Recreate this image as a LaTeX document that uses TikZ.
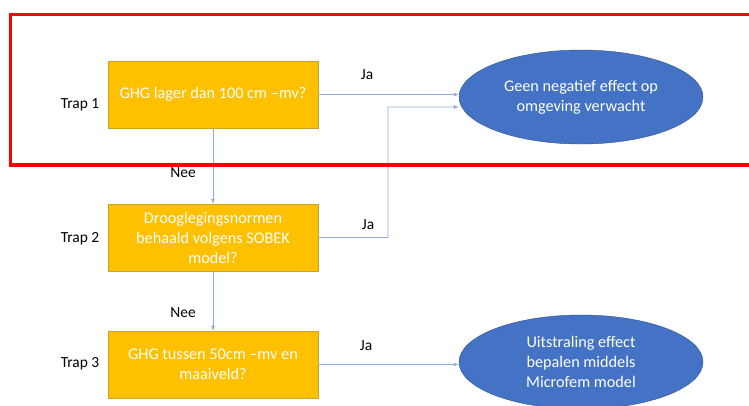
\documentclass[tikz,border=0pt]{standalone}
\usepackage{fontspec}
\setmainfont{Carlito}
\usetikzlibrary{shapes.geometric,arrows.meta}

\definecolor{trapgeel}{HTML}{FFC000}
\definecolor{traprand}{HTML}{C9A227}
\definecolor{uitblauw}{HTML}{4472C4}
\definecolor{uitrand}{HTML}{2F528F}
\definecolor{lijnblauw}{HTML}{8FAADC}

\begin{document}
\begin{tikzpicture}[x=1bp, y=-1bp,
    vraag/.style={draw=traprand, fill=trapgeel, text=white, align=center,
        minimum width=210bp, minimum height=67bp, inner sep=0pt,
        font=\fontsize{16.3}{20}\selectfont},
    uitkomst/.style={ellipse, draw=uitrand, fill=uitblauw, text=white, align=center,
        minimum width=244bp, minimum height=94bp, inner sep=0pt,
        font=\fontsize{16.3}{20}\selectfont},
    tekst/.style={font=\fontsize{15.5}{18}\selectfont},
    pijl/.style={draw=lijnblauw, line width=0.8bp, -{Latex[length=5bp,width=4bp]}}]
    \useasboundingbox (0,0) rectangle (749,405);
    \clip (0,0) rectangle (749,405);

    % vragen
    \node[vraag] (v1) at (213,94.5) {GHG lager dan 100 cm --mv?};
    \node[vraag] (v2) at (213,237.5) {Drooglegingsnormen\\behaald volgens SOBEK\\model?};
    \node[vraag] (v3) at (213,364.5) {GHG tussen 50cm --mv en\\maaiveld?};

    % uitkomsten
    \node[uitkomst] (u1) at (581,97) {Geen negatief effect op\\omgeving verwacht};
    \node[uitkomst] (u2) at (581,362) {Uitstraling effect\\bepalen middels\\Microfem model};

    \foreach \n/\y in {1/105, 2/239, 3/364} {
        \node[tekst] (trap\n) at (80,\y) {Trap \n};
    }

    \foreach \n/\x/\y in {1/367/75, 2/368/225, 3/366/346} {
        \node[tekst] (ja\n) at (\x,\y) {Ja};
    }
    \node[tekst] (nee1) at (183,173) {Nee};
    \node[tekst] (nee2) at (183,313) {Nee};

    % pijlen
    \coordinate (knik) at (388,107);
    \draw[pijl] (v1.east) -- (u1.west |- v1.east);
    \draw[pijl] (v2.east) -| (knik) -- ([yshift=-10bp]u1.west);
    \draw[pijl] (v1.south) -- (v2.north);
    \draw[pijl] (v2.south) -- (v3.north);
    \draw[pijl] (v3.east) -- (u2.west |- v3.east);

    % kader trap 1
    \draw[red, line width=3.5bp] (10.5,14.5) rectangle (770,165);
\end{tikzpicture}
\end{document}
